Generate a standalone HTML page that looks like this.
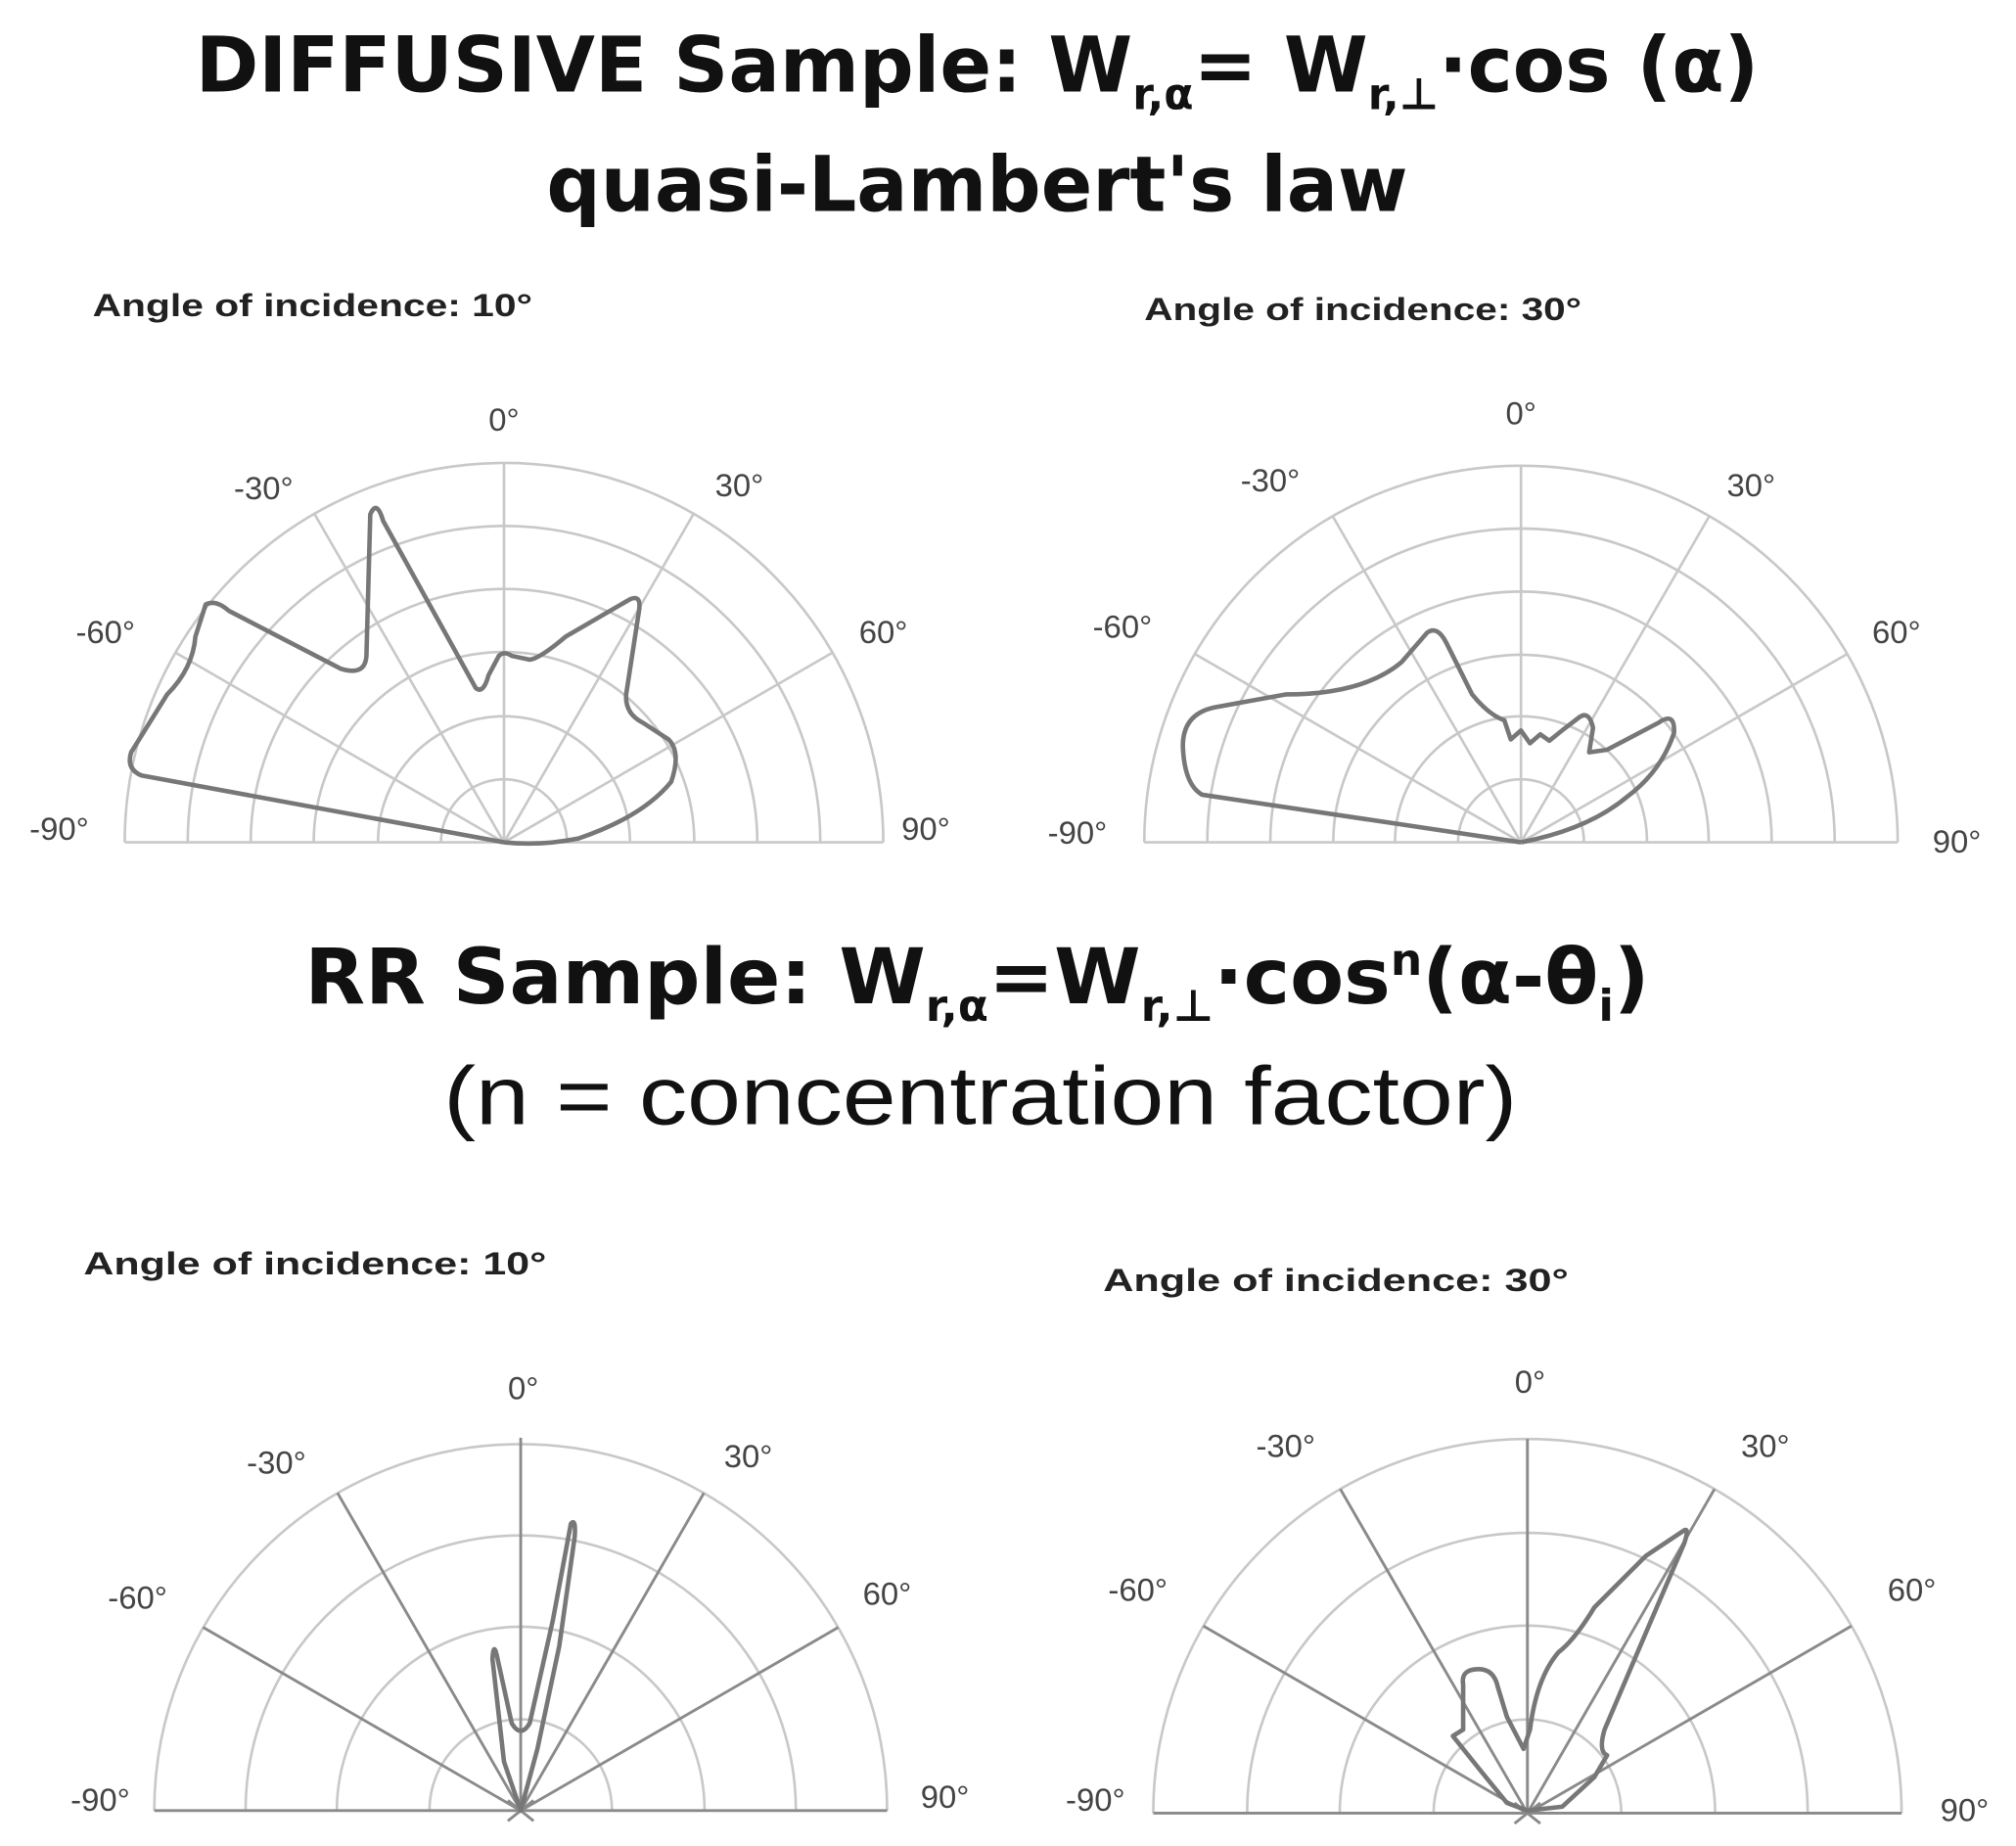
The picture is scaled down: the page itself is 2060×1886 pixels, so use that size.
<!DOCTYPE html>
<html><head><meta charset="utf-8"><style>
html,body{margin:0;padding:0;background:#fff;}
svg{display:block;}
text{font-family:"Liberation Sans",sans-serif;}
.t{font-family:"DejaVu Sans","Liberation Sans",sans-serif;font-weight:bold;fill:#111;}
.lab{font-size:25px;font-weight:bold;fill:#222;}
.ang{font-size:25px;fill:#444;font-family:"Liberation Sans Narrow","Liberation Sans",sans-serif;}
.grid{fill:none;stroke:#c8c8c8;stroke-width:2;}
.sp{stroke:#c8c8c8;stroke-width:2;}
.sp2{stroke:#8a8a8a;stroke-width:2.2;}
.cv{fill:none;stroke:#777;stroke-width:3.5;stroke-linejoin:round;}
</style></head><body>
<svg width="2060" height="1886" viewBox="0 0 1568 1435.5" xmlns="http://www.w3.org/2000/svg">
<text class="t" x="152" y="71" font-size="60" textLength="1216" lengthAdjust="spacingAndGlyphs">DIFFUSIVE Sample: W<tspan font-size="34" dy="14">r,α</tspan><tspan dy="-14">= W</tspan><tspan font-size="34" dy="14">r,⊥</tspan><tspan dy="-14">·cos (α)</tspan></text>
<text class="t" x="425" y="164" font-size="60" textLength="670" lengthAdjust="spacingAndGlyphs">quasi-Lambert's law</text>
<text class="t" x="237" y="780" font-size="60" textLength="1046" lengthAdjust="spacingAndGlyphs">RR Sample: W<tspan font-size="34" dy="14">r,α</tspan><tspan dy="-14">=W</tspan><tspan font-size="34" dy="14">r,⊥</tspan><tspan dy="-14">·cos</tspan><tspan font-size="34" dy="-22">n</tspan><tspan dy="22">(α-θ</tspan><tspan font-size="34" dy="14">i</tspan><tspan dy="-14">)</tspan></text>
<text x="345" y="874" font-size="64" textLength="835" lengthAdjust="spacingAndGlyphs" fill="#111" font-family="DejaVu Sans, Liberation Sans, sans-serif">(n = concentration factor)</text>

<!-- chart 1 -->
<g>
<text class="lab" x="72" y="246" textLength="342" lengthAdjust="spacingAndGlyphs">Angle of incidence: 10°</text>
<g class="grid">
<path d="M97 655 A295 295 0 0 1 687 655"/><path d="M146 655 A246 246 0 0 1 638 655"/><path d="M195 655 A197 197 0 0 1 589 655"/><path d="M244 655 A148 148 0 0 1 540 655"/><path d="M294 655 A98 98 0 0 1 490 655"/><path d="M343 655 A49 49 0 0 1 441 655"/>
</g>
<g class="sp"><line x1="97" y1="655" x2="687" y2="655"/><line x1="392" y1="655" x2="392" y2="360"/><line x1="392" y1="655" x2="244.5" y2="399.5"/><line x1="392" y1="655" x2="539.5" y2="399.5"/><line x1="392" y1="655" x2="136.5" y2="507.5"/><line x1="392" y1="655" x2="647.5" y2="507.5"/></g>
<path class="cv" d="M392 655 L110 603 Q98 598 102 585 L130 540 Q150 520 152 495 L160 470 Q168 466 178 475 L265 520 Q284 526 285 510 L288 400 Q293 388 298 405 L370 535 Q376 540 380 525 L388 510 Q392 506 398 510 L412 513 Q420 512 440 495 L490 466 Q499 462 497 475 L487 540 Q486 555 500 562 L520 575 Q530 585 522 608 Q500 635 450 652 Q420 658 392 655"/>
<text class="ang" x="392" y="335" text-anchor="middle">0°</text>
<text class="ang" x="205" y="388" text-anchor="middle">-30°</text>
<text class="ang" x="575" y="386" text-anchor="middle">30°</text>
<text class="ang" x="82" y="500" text-anchor="middle">-60°</text>
<text class="ang" x="687" y="500" text-anchor="middle">60°</text>
<text class="ang" x="46" y="653" text-anchor="middle">-90°</text>
<text class="ang" x="720" y="653" text-anchor="middle">90°</text>
</g>

<!-- chart 2 -->
<g>
<text class="lab" x="890" y="249" textLength="340" lengthAdjust="spacingAndGlyphs">Angle of incidence: 30°</text>
<g class="grid">
<path d="M890 655 A293 293 0 0 1 1476 655"/><path d="M939 655 A244 244 0 0 1 1427 655"/><path d="M988 655 A195 195 0 0 1 1378 655"/><path d="M1037 655 A146 146 0 0 1 1329 655"/><path d="M1085 655 A98 98 0 0 1 1281 655"/><path d="M1134 655 A49 49 0 0 1 1232 655"/>
</g>
<g class="sp"><line x1="890" y1="655" x2="1476" y2="655"/><line x1="1183" y1="655" x2="1183" y2="362"/><line x1="1183" y1="655" x2="1036.5" y2="401.3"/><line x1="1183" y1="655" x2="1329.5" y2="401.3"/><line x1="1183" y1="655" x2="929.3" y2="508.5"/><line x1="1183" y1="655" x2="1436.7" y2="508.5"/></g>
<path class="cv" d="M1183 655 L935 618 Q921 610 920 580 Q920 555 945 550 L1000 540 Q1060 540 1090 515 L1110 492 Q1118 486 1125 500 L1145 540 Q1158 556 1170 560 L1175 575 L1183 568 L1190 578 L1198 571 L1205 576 L1215 568 L1228 558 Q1236 552 1239 566 L1236 585 L1250 583 L1290 562 Q1303 553 1302 570 Q1292 600 1265 620 Q1235 645 1183 655"/>
<text class="ang" x="1183" y="330" text-anchor="middle">0°</text>
<text class="ang" x="988" y="382" text-anchor="middle">-30°</text>
<text class="ang" x="1362" y="386" text-anchor="middle">30°</text>
<text class="ang" x="873" y="496" text-anchor="middle">-60°</text>
<text class="ang" x="1475" y="500" text-anchor="middle">60°</text>
<text class="ang" x="838" y="656" text-anchor="middle">-90°</text>
<text class="ang" x="1522" y="663" text-anchor="middle">90°</text>
</g>

<!-- chart 3 -->
<g>
<text class="lab" x="65" y="991" textLength="360" lengthAdjust="spacingAndGlyphs">Angle of incidence: 10°</text>
<g class="grid">
<path d="M120 1408 A285 285 0 0 1 690 1408"/><path d="M191 1408 A214 214 0 0 1 619 1408"/><path d="M262 1408 A143 143 0 0 1 548 1408"/><path d="M334 1408 A71 71 0 0 1 476 1408"/>
</g>
<g class="sp2"><line x1="120" y1="1408" x2="690" y2="1408"/><line x1="405" y1="1408" x2="405" y2="1118"/><line x1="405" y1="1408" x2="262.5" y2="1161"/><line x1="405" y1="1408" x2="547.5" y2="1161"/><line x1="405" y1="1408" x2="158" y2="1265.5"/><line x1="405" y1="1408" x2="652" y2="1265.5"/><line x1="395" y1="1400" x2="415" y2="1416"/><line x1="415" y1="1400" x2="395" y2="1416"/></g>
<path class="cv" d="M405 1408 L392 1370 L383 1290 Q384 1275 387 1290 L398 1340 Q405 1352 412 1340 L430 1260 L444 1185 Q448 1180 447 1195 L435 1280 L418 1360 Z"/>
<text class="ang" x="407" y="1088" text-anchor="middle">0°</text>
<text class="ang" x="215" y="1146" text-anchor="middle">-30°</text>
<text class="ang" x="582" y="1141" text-anchor="middle">30°</text>
<text class="ang" x="107" y="1251" text-anchor="middle">-60°</text>
<text class="ang" x="690" y="1248" text-anchor="middle">60°</text>
<text class="ang" x="78" y="1408" text-anchor="middle">-90°</text>
<text class="ang" x="735" y="1406" text-anchor="middle">90°</text>
</g>

<!-- chart 4 -->
<g>
<text class="lab" x="858" y="1004" textLength="362" lengthAdjust="spacingAndGlyphs">Angle of incidence: 30°</text>
<g class="grid">
<path d="M897 1410 A291 291 0 0 1 1479 1410"/><path d="M970 1410 A218 218 0 0 1 1406 1410"/><path d="M1042 1410 A146 146 0 0 1 1334 1410"/><path d="M1115 1410 A73 73 0 0 1 1261 1410"/>
</g>
<g class="sp2"><line x1="897" y1="1410" x2="1479" y2="1410"/><line x1="1188" y1="1410" x2="1188" y2="1119"/><line x1="1188" y1="1410" x2="1042.5" y2="1158"/><line x1="1188" y1="1410" x2="1333.5" y2="1158"/><line x1="1188" y1="1410" x2="936" y2="1264.5"/><line x1="1188" y1="1410" x2="1440" y2="1264.5"/><line x1="1178" y1="1402" x2="1198" y2="1418"/><line x1="1198" y1="1402" x2="1178" y2="1418"/></g>
<path class="cv" d="M1188 1408 L1172 1402 L1150 1375 L1130 1350 L1138 1345 L1138 1310 Q1136 1298 1150 1298 Q1162 1298 1165 1312 L1172 1335 L1185 1360 L1190 1345 Q1195 1305 1212 1285 Q1225 1275 1240 1250 L1280 1210 L1310 1190 Q1314 1188 1310 1200 L1280 1270 L1248 1345 Q1243 1362 1250 1365 L1240 1382 L1215 1405 Z"/>
<text class="ang" x="1190" y="1083" text-anchor="middle">0°</text>
<text class="ang" x="1000" y="1133" text-anchor="middle">-30°</text>
<text class="ang" x="1373" y="1133" text-anchor="middle">30°</text>
<text class="ang" x="885" y="1245" text-anchor="middle">-60°</text>
<text class="ang" x="1487" y="1245" text-anchor="middle">60°</text>
<text class="ang" x="852" y="1408" text-anchor="middle">-90°</text>
<text class="ang" x="1528" y="1416" text-anchor="middle">90°</text>
</g>
</svg>
</body></html>
